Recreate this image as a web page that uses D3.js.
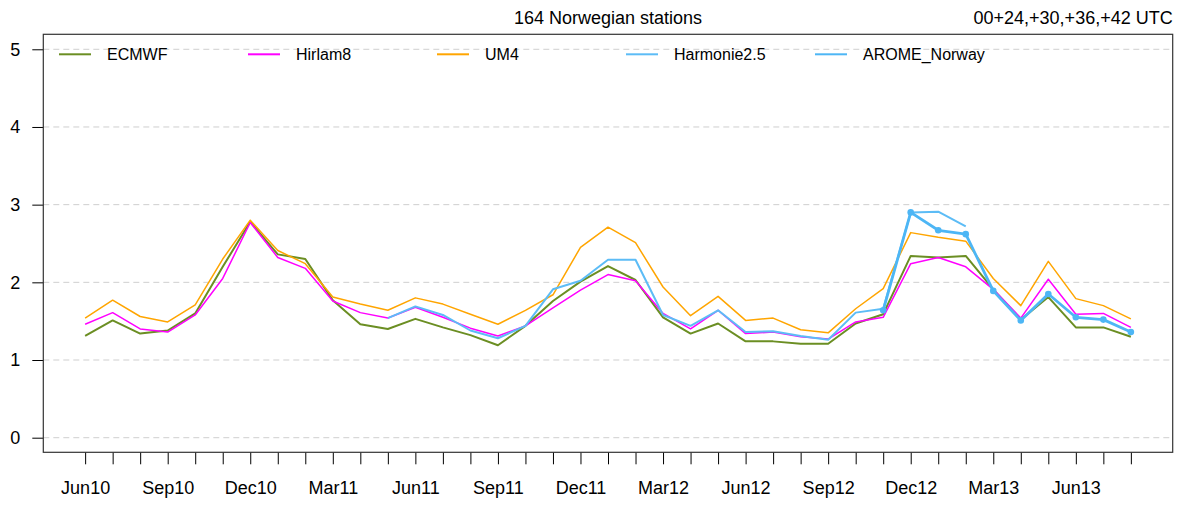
<!doctype html>
<html lang='en'>
  <head>
    <meta charset="utf-8">
    <script src="https://d3js.org/d3.v7.min.js"></script>
    <title>164 Norwegian stations</title>
  <style>
  body {
    margin: 0;
    background-color: white;
  }

  svg {
    display: block;
    font-family: "Liberation Sans", Arial, Helvetica, sans-serif;
  }

  .grid line {
    stroke: #cfcfcf;
    stroke-dasharray: 6,4;
  }
  </style>
  </head>

  <body>
    <div id='chart'></div>
    <script>
    // months Jun10 .. Aug13
    const months = ['Jun10','Jul10','Aug10','Sep10','Oct10','Nov10','Dec10','Jan11','Feb11','Mar11','Apr11','May11',
                    'Jun11','Jul11','Aug11','Sep11','Oct11','Nov11','Dec11','Jan12','Feb12','Mar12','Apr12','May12',
                    'Jun12','Jul12','Aug12','Sep12','Oct12','Nov12','Dec12','Jan13','Feb13','Mar13','Apr13','May13',
                    'Jun13','Jul13','Aug13'];
    const tickLabels = ['Jun10','Sep10','Dec10','Mar11','Jun11','Sep11','Dec11','Mar12','Jun12','Sep12','Dec12','Mar13','Jun13'];
    const yTicks = [0, 1, 2, 3, 4, 5];

    const ecmwf = [1.31,1.51,1.34,1.38,1.60,2.20,2.78,2.36,2.30,1.77,1.46,1.40,
                   1.53,1.42,1.32,1.19,1.44,1.76,2.01,2.21,2.03,1.55,1.34,1.47,
                   1.24,1.24,1.21,1.21,1.47,1.59,2.34,2.32,2.34,1.91,1.52,1.81,
                   1.42,1.42,1.30];
    const hirlam8 = [1.46,1.61,1.40,1.36,1.58,2.05,2.77,2.32,2.18,1.76,1.61,1.54,
                     1.68,1.55,1.41,1.31,1.44,1.67,1.90,2.10,2.02,1.60,1.40,1.64,
                     1.34,1.36,1.30,1.27,1.49,1.55,2.24,2.32,2.20,1.91,1.54,2.04,
                     1.59,1.60,1.42];
    const um4 = [1.54,1.77,1.56,1.49,1.71,2.30,2.80,2.41,2.24,1.81,1.72,1.64,
                 1.80,1.72,1.59,1.46,1.64,1.84,2.45,2.71,2.51,1.94,1.57,1.82,
                 1.51,1.54,1.39,1.35,1.66,1.92,2.64,2.58,2.53,2.05,1.70,2.27,
                 1.79,1.70,1.53];
    const harmonie = [null,null,null,null,null,null,null,null,null,null,null,1.54,
                      1.69,1.58,1.38,1.28,1.44,1.91,2.02,2.29,2.29,1.58,1.44,1.64,
                      1.36,1.37,1.31,1.26,1.61,1.66,2.90,2.91,2.72,null,null,null,
                      null,null,null];
    const arome = [null,null,null,null,null,null,null,null,null,null,null,null,
                   null,null,null,null,null,null,null,null,null,null,null,null,
                   null,null,null,null,null,1.64,2.90,2.67,2.62,1.89,1.51,1.85,
                   1.55,1.52,1.36];

    const seriesNames = ['ECMWF','Hirlam8','UM4','Harmonie2.5','AROME_Norway'];
    const seriesColors = ['#6b8e23','#ff00ff','#ffa500','#5cbcf6','#4db6f5'];
    const seriesWidths = [2, 1.5, 1.5, 2, 2.8];

    const series = [ecmwf, hirlam8, um4, harmonie, arome];

    const W = 1187, H = 505;
    const pLeft = 43.3, pRight = 1172.7, pTop = 34.3, pBottom = 452.3;

    const svg = d3.select('#chart')
                  .append('svg')
                  .attr('width', W)
                  .attr('height', H);

    const xScale = d3.scaleLinear()
                     .domain([-1.52, months.length - 1 + 1.52])
                     .range([pLeft, pRight]);

    const yScale = d3.scaleLinear()
                     .domain([-0.188, 5.193])
                     .range([pBottom, pTop]);

    // grid
    svg.append('g')
       .attr('class', 'grid')
       .selectAll('line')
       .data(yTicks)
       .enter()
       .append('line')
       .attr('x1', pLeft)
       .attr('x2', pRight)
       .attr('y1', d => yScale(d))
       .attr('y2', d => yScale(d));

    // y axis
    const yAxis = d3.axisLeft(yScale).tickValues(yTicks).tickSize(11).tickPadding(12).tickFormat(d3.format('d'));
    const gy = svg.append('g')
                  .attr('transform', 'translate(' + pLeft + ',0)')
                  .call(yAxis);
    gy.select('.domain').remove();
    gy.selectAll('text').attr('font-size', 18).attr('fill', '#000');
    gy.attr('font-family', null);

    // x axis, one tick per month
    const xAxis = d3.axisBottom(xScale)
                    .tickValues(d3.range(months.length))
                    .tickSize(12)
                    .tickPadding(17)
                    .tickFormat(i => tickLabels.includes(months[i]) ? months[i] : '');
    const gx = svg.append('g')
                  .attr('transform', 'translate(0,' + pBottom + ')')
                  .call(xAxis);
    gx.select('.domain').remove();
    gx.selectAll('text').attr('font-size', 18).attr('fill', '#000');
    gx.attr('font-family', null);

    // box
    svg.append('rect')
       .attr('x', pLeft)
       .attr('y', pTop)
       .attr('width', pRight - pLeft)
       .attr('height', pBottom - pTop)
       .attr('fill', 'none')
       .attr('stroke', '#333')
       .attr('stroke-width', 1.2);

    const line = d3.line()
                   .defined(d => d != null)
                   .x((d, i) => xScale(i))
                   .y(d => yScale(d));

    series.forEach((s, k) => {
      svg.append('path')
         .datum(s)
         .attr('fill', 'none')
         .attr('stroke', seriesColors[k])
         .attr('stroke-width', seriesWidths[k])
         .attr('stroke-linejoin', 'round')
         .attr('d', line);
    });

    // points on AROME_Norway
    svg.selectAll('circle.arome')
       .data(arome.map((v, i) => [i, v]).filter(d => d[1] != null))
       .enter()
       .append('circle')
       .attr('class', 'arome')
       .attr('cx', d => xScale(d[0]))
       .attr('cy', d => yScale(d[1]))
       .attr('r', 3.3)
       .attr('fill', seriesColors[4]);

    // legend
    const legend = svg.append('g');
    seriesNames.forEach((name, k) => {
      const lx = 59 + 189 * k;
      legend.append('line')
            .attr('x1', lx)
            .attr('x2', lx + 32)
            .attr('y1', 54.3)
            .attr('y2', 54.3)
            .attr('stroke', seriesColors[k])
            .attr('stroke-width', 2);
      legend.append('text')
            .attr('x', lx + 48)
            .attr('y', 54.3)
            .attr('dy', '0.35em')
            .attr('font-size', 16)
            .text(name);
    });

    // titles
    svg.append('text')
       .attr('x', (pLeft + pRight) / 2)
       .attr('y', 24)
       .attr('text-anchor', 'middle')
       .attr('font-size', 18)
       .text('164 Norwegian stations');

    svg.append('text')
       .attr('x', pRight)
       .attr('y', 24)
       .attr('text-anchor', 'end')
       .attr('font-size', 18)
       .text('00+24,+30,+36,+42 UTC');
    </script>
  </body>
</html>
